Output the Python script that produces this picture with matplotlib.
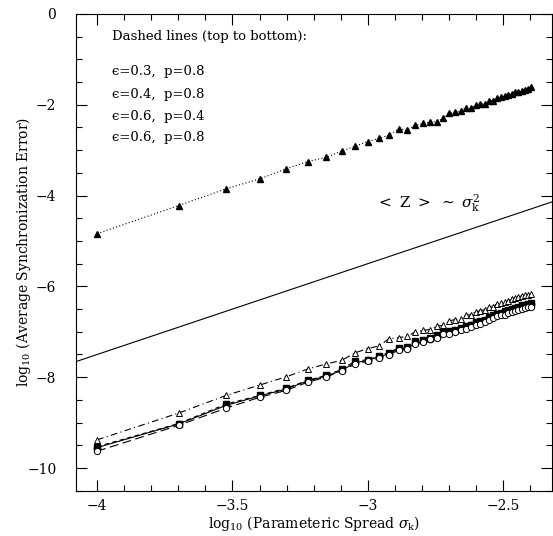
import numpy as np
import matplotlib
matplotlib.use('Agg')
import matplotlib.pyplot as plt
from matplotlib.ticker import MultipleLocator

plt.rcParams['font.family'] = ['DejaVu Serif']
plt.rcParams['mathtext.fontset'] = 'dejavuserif'

# sigma_k = k * 1e-4, k = 1..40 ; x axis is log10(sigma_k)
k = np.arange(1, 41)
log_sigma = np.log10(k * 1e-4)

# eps=0.3, p=0.8 (dotted, filled triangles)
eps03_p08 = [-4.84, -4.22, -3.85, -3.63, -3.41, -3.25, -3.16, -3.02, -2.91, -2.81,
             -2.74, -2.67, -2.53, -2.56, -2.45, -2.41, -2.38, -2.37, -2.30, -2.19,
             -2.17, -2.14, -2.07, -2.08, -2.01, -1.98, -1.98, -1.91, -1.91, -1.85,
             -1.83, -1.81, -1.78, -1.76, -1.73, -1.71, -1.69, -1.67, -1.65, -1.62]
# eps=0.4, p=0.8 (dash-dot, open triangles)
eps04_p08 = [-9.38, -8.79, -8.40, -8.17, -7.99, -7.82, -7.71, -7.63, -7.46, -7.37,
             -7.31, -7.15, -7.13, -7.10, -7.00, -6.97, -6.95, -6.87, -6.86, -6.76,
             -6.73, -6.71, -6.64, -6.62, -6.56, -6.54, -6.51, -6.46, -6.45, -6.38,
             -6.36, -6.35, -6.33, -6.27, -6.26, -6.23, -6.21, -6.20, -6.18, -6.17]
# eps=0.6, p=0.4 (dashed, filled squares)
eps06_p04 = [-9.53, -9.02, -8.59, -8.40, -8.24, -8.07, -7.96, -7.83, -7.64, -7.62,
             -7.53, -7.46, -7.35, -7.34, -7.20, -7.19, -7.13, -7.08, -7.00, -6.99,
             -6.96, -6.92, -6.88, -6.84, -6.79, -6.76, -6.73, -6.68, -6.64, -6.60,
             -6.58, -6.55, -6.53, -6.50, -6.48, -6.45, -6.42, -6.40, -6.38, -6.36]
# eps=0.6, p=0.8 (long dash, open circles)
eps06_p08 = [-9.63, -9.06, -8.68, -8.44, -8.29, -8.11, -8.00, -7.86, -7.71, -7.65,
             -7.58, -7.51, -7.40, -7.38, -7.27, -7.22, -7.16, -7.13, -7.05, -7.04,
             -7.01, -6.97, -6.93, -6.89, -6.85, -6.82, -6.79, -6.74, -6.70, -6.66,
             -6.64, -6.62, -6.59, -6.56, -6.54, -6.51, -6.49, -6.47, -6.46, -6.45]
# solid, filled circles
solid_circles = [-9.55, -9.03, -8.62, -8.41, -8.26, -8.08, -7.98, -7.85, -7.68, -7.63,
                 -7.55, -7.48, -7.37, -7.36, -7.25, -7.21, -7.15, -7.11, -7.02, -7.01,
                 -6.98, -6.94, -6.90, -6.86, -6.81, -6.78, -6.76, -6.70, -6.66, -6.62,
                 -6.60, -6.58, -6.56, -6.53, -6.51, -6.48, -6.45, -6.42, -6.40, -6.38]

# reference line <Z> ~ sigma_k^2
ref_x = [-4.1, -2.3]
ref_slope = 2.0
ref_offset = 0.5

legend_lines = ['Dashed lines (top to bottom):',
                '\u03f5=0.3,  p=0.8', '\u03f5=0.4,  p=0.8',
                '\u03f5=0.6,  p=0.4', '\u03f5=0.6,  p=0.8']

fig = plt.figure(figsize=(5.53, 5.36), dpi=100)
ax = fig.add_axes([0.137, 0.0845, 0.861, 0.8895])

lw = 0.8
ax.plot(log_sigma, eps03_p08, ls=(0, (1, 2)), color='black', lw=lw,
        marker='^', ms=4, mfc='black', mec='black')
ax.plot(log_sigma, eps04_p08, ls=(0, (6, 3, 1, 3)), color='black', lw=lw,
        marker='^', ms=4.5, mfc='white', mec='black', mew=0.7)
ax.plot(log_sigma, solid_circles, ls='-', color='black', lw=lw,
        marker='o', ms=4.5, mfc='black', mec='black')
ax.plot(log_sigma, eps06_p04, ls=(0, (4, 3)), color='black', lw=lw,
        marker='s', ms=4, mfc='black', mec='black')
ax.plot(log_sigma, eps06_p08, ls=(0, (8, 4)), color='black', lw=lw,
        marker='o', ms=4.5, mfc='white', mec='black', mew=0.7)

rx = np.array(ref_x)
ax.plot(rx, ref_slope * rx + ref_offset, color='black', lw=lw)

ax.text(-2.968, -4.16, r'$<\ \mathrm{Z}\ >\ \sim\ \sigma_{\rm k}^2$',
        fontsize=11, va='center', ha='left')

ys = [-0.5, -1.27, -1.77, -2.26, -2.73]
for txt, yy in zip(legend_lines, ys):
    ax.text(-3.946, yy, txt, fontsize=9.5, va='center', ha='left')

ax.set_xlim(-4.079, -2.32)
ax.set_ylim(-10.5, 0)
ax.xaxis.set_major_locator(MultipleLocator(0.5))
ax.xaxis.set_minor_locator(MultipleLocator(0.1))
ax.yaxis.set_major_locator(MultipleLocator(2))
ax.yaxis.set_minor_locator(MultipleLocator(0.5))
ax.tick_params(which='both', direction='in', top=True, right=True, width=0.8)
ax.tick_params(which='major', length=8, labelsize=10)
ax.tick_params(which='minor', length=4)
ax.tick_params(axis='y', which='major', pad=14)
ax.tick_params(axis='x', which='major', pad=6)
ax.set_xticks([-4, -3.5, -3, -2.5])
ax.set_xticklabels(['\u22124', '\u22123.5', '\u22123', '\u22122.5'])
ax.set_yticks([0, -2, -4, -6, -8, -10])
ax.set_yticklabels(['0', '\u22122', '\u22124', '\u22126', '\u22128', '\u221210'])
for s in ax.spines.values():
    s.set_linewidth(0.8)

ax.set_xlabel(r'$\mathrm{log}_{10}$ (Parameteric Spread $\sigma_{\rm k}$)', fontsize=10, labelpad=1)
ax.set_ylabel(r'$\mathrm{log}_{10}$ (Average Synchronization Error)', fontsize=10, labelpad=-4)

fig.savefig('out.png', dpi=100)
